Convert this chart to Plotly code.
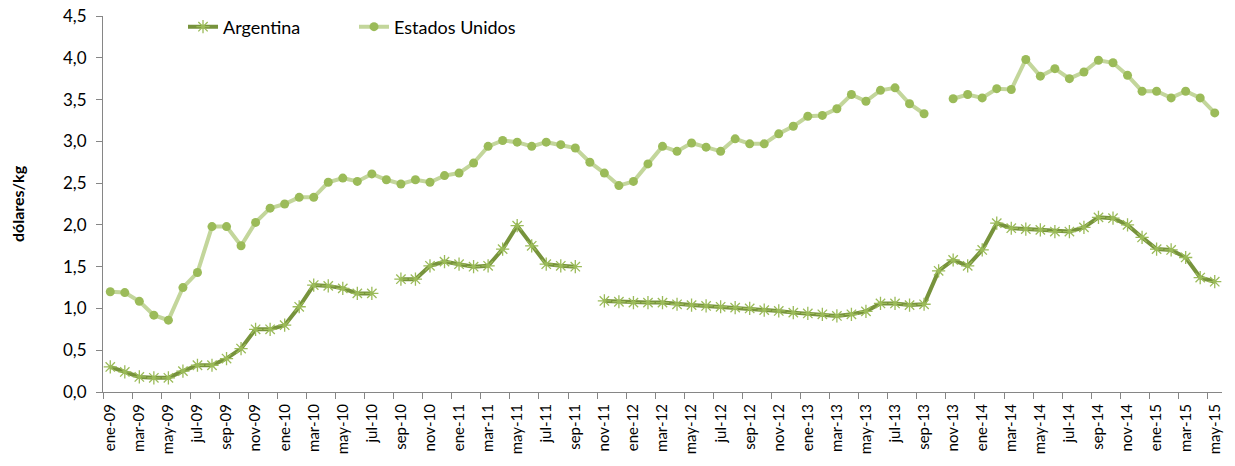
import plotly.graph_objects as go

months = ["ene", "feb", "mar", "abr", "may", "jun", "jul", "ago", "sep", "oct", "nov", "dic"]
categories = [f"{m}-{y:02d}" for y in range(9, 16) for m in months][:77]

argentina = [
    0.30, 0.24, 0.18, 0.17, 0.17, 0.25, 0.32, 0.32, 0.40, 0.52, 0.75, 0.75,   # 2009
    0.80, 1.02, 1.28, 1.27, 1.24, 1.18, 1.18, None, 1.35, 1.35, 1.51, 1.56,   # 2010
    1.53, 1.50, 1.51, 1.71, 1.99, 1.75, 1.53, 1.51, 1.50, None, 1.09, 1.08,   # 2011
    1.07, 1.07, 1.07, 1.05, 1.04, 1.03, 1.02, 1.01, 1.00, 0.98, 0.97, 0.95,   # 2012
    0.94, 0.93, 0.91, 0.93, 0.965, 1.06, 1.06, 1.04, 1.05, 1.45, 1.58, 1.51,  # 2013
    1.70, 2.02, 1.96, 1.95, 1.94, 1.92, 1.92, 1.97, 2.09, 2.08, 2.00, 1.85,   # 2014
    1.71, 1.70, 1.61, 1.37, 1.32,                                             # 2015
]

estados_unidos = [
    1.20, 1.19, 1.085, 0.92, 0.86, 1.25, 1.43, 1.98, 1.98, 1.75, 2.03, 2.20,  # 2009
    2.25, 2.33, 2.33, 2.51, 2.56, 2.52, 2.61, 2.54, 2.49, 2.54, 2.51, 2.59,   # 2010
    2.62, 2.74, 2.94, 3.01, 2.99, 2.94, 2.99, 2.96, 2.92, 2.75, 2.62, 2.47,   # 2011
    2.52, 2.73, 2.94, 2.88, 2.98, 2.93, 2.88, 3.03, 2.97, 2.97, 3.09, 3.18,   # 2012
    3.30, 3.31, 3.39, 3.56, 3.48, 3.61, 3.64, 3.45, 3.33, None, 3.51, 3.56,   # 2013
    3.52, 3.63, 3.62, 3.98, 3.78, 3.87, 3.75, 3.83, 3.97, 3.94, 3.79, 3.60,   # 2014
    3.60, 3.52, 3.60, 3.52, 3.34,                                             # 2015
]

y_ticks = [0, 0.5, 1.0, 1.5, 2.0, 2.5, 3.0, 3.5, 4.0, 4.5]

x_idx = list(range(len(categories)))
label_idx = x_idx[::2]
label_text = categories[::2]

FONT = "Lato, 'Open Sans', sans-serif"

fig = go.Figure()
fig.add_trace(go.Scatter(
    x=x_idx, y=argentina, name="Argentina", mode="lines+markers",
    connectgaps=False,
    line=dict(color="#77933C", width=4),
    marker=dict(symbol="asterisk-open", size=11, color="#9BBB59",
                line=dict(color="#9BBB59", width=1.3)),
))
fig.add_trace(go.Scatter(
    x=x_idx, y=estados_unidos, name="Estados Unidos", mode="lines+markers",
    connectgaps=False,
    line=dict(color="#C3D69B", width=4),
    marker=dict(symbol="circle", size=9, color="#9BBB59"),
))

fig.update_layout(
    width=1235, height=466,
    margin=dict(l=103, r=13, t=16, b=74, autoexpand=False),
    paper_bgcolor="white", plot_bgcolor="white",
    separators=",.",
    font=dict(family=FONT, size=15, color="#000000"),
    showlegend=True,
    legend=dict(orientation="h", x=0.0715, y=1.02, xanchor="left", yanchor="top",
                font=dict(family=FONT, size=18, color="#000000"),
                bgcolor="rgba(0,0,0,0)", entrywidth=126, entrywidthmode="pixels"),
    xaxis=dict(
        range=[-0.5, len(categories) - 0.5], automargin=False,
        tickmode="array", tickvals=label_idx, ticktext=label_text,
        tickangle=-90, ticks="", ticklabelstandoff=5,
        showgrid=False, zeroline=False,
        showline=True, linecolor="#868686", linewidth=1,
        tickfont=dict(family=FONT, size=15, color="#000000"),
        minor=dict(ticks="outside", tickmode="linear", tick0=-0.5, dtick=2,
                   ticklen=6, tickcolor="#868686", tickwidth=1, showgrid=False),
    ),
    yaxis=dict(
        range=[0, 4.5], automargin=False,
        tickmode="array", tickvals=y_ticks, tickformat=".1f",
        ticks="outside", ticklen=6, tickcolor="#868686", ticklabelstandoff=6,
        showgrid=False, zeroline=False,
        showline=True, linecolor="#868686", linewidth=1,
        tickfont=dict(family=FONT, size=17, color="#000000"),
        title=dict(text="<b>dólares/kg</b>", font=dict(family=FONT, size=16, color="#000000"),
                   standoff=34),
    ),
)

fig.write_html("out.html", config={"displayModeBar": False},
               post_script="document.body.style.margin='0';")
